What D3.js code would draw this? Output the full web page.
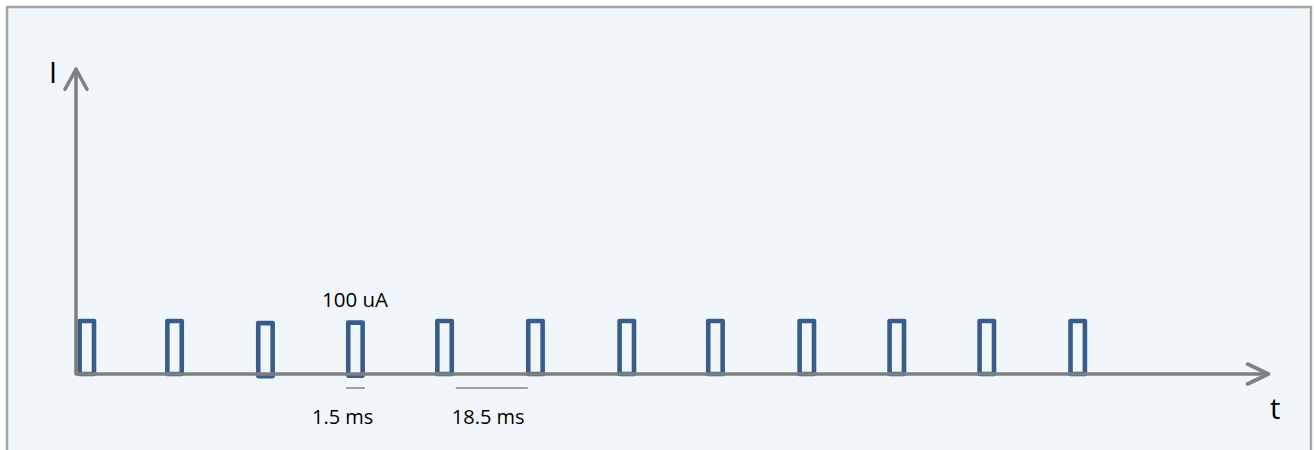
<!DOCTYPE html>
<html>
<head>
<meta charset="utf-8">
<script src="https://cdn.jsdelivr.net/npm/d3@7"></script>
<style>
  html, body { margin: 0; padding: 0; background: #ffffff; }
  svg { display: block; }
</style>
</head>
<body>
<svg id="chart" width="1314" height="450"></svg>
<script>
// ---- data (time in ms, current in uA) ----
const pulseStarts = [0.8, 20.3, 40.5, 60.5, 80.3, 100.5, 120.8, 140.5, 160.8, 180.8, 200.8, 221.0];
const pulseBaseOffsets = [0, 0, -4, -3, 0, 0, 0, 0, 0, 0, 0, 0];
const pulseAmplitude = 100;
const pulseDrawWidth = 3.2;
const amplitudeLabel = "100 uA";
const durationMarks = [
  { label: "1.5 ms", from: 60.0, to: 64.2 },
  { label: "18.5 ms", from: 84.4, to: 100.4 }
];
const axisLabels = { y: "I", x: "t" };
const tMax = 265;
const iMax = 575;

// ---- layout ----
const svg = d3.select("#chart");
const x = d3.scaleLinear().domain([0, tMax]).range([76, 1268.5]);
const y = d3.scaleLinear().domain([0, iMax]).range([374, 69.25]);

// frame
svg.append("rect")
  .attr("x", 7).attr("y", 7).attr("width", 1304).attr("height", 460)
  .attr("fill", "#f1f6fa").attr("stroke", "#a6a6a6").attr("stroke-width", 2.5);

const axisColor = "#7f7f7f";

// pulses
const pulses = pulseStarts.map((t, i) => ({ t, base: pulseBaseOffsets[i] }));
svg.append("g").selectAll("path").data(pulses).join("path")
  .attr("d", d => {
    const x0 = x(d.t), x1 = x(d.t + pulseDrawWidth);
    const yb = y(d.base), yt = y(d.base + pulseAmplitude);
    return `M${x0},${yb} L${x0},${yt} L${x1},${yt} L${x1},${yb} Z`;
  })
  .attr("fill", "none")
  .attr("stroke", "#385d8a")
  .attr("stroke-width", 4.6)
  .attr("stroke-linejoin", "round");

// axes
const g = svg.append("g").attr("stroke", axisColor).attr("stroke-width", 3.6)
  .attr("fill", "none").attr("stroke-linecap", "round").attr("stroke-linejoin", "round");
g.append("path").attr("d", `M${x(0)},${y(iMax)} L${x(0)},${y(0)} L${x(tMax)},${y(0)}`);
// arrowheads
g.append("path").attr("d",
  `M${x(0) - 11},${y(iMax) + 20} L${x(0)},${y(iMax)} L${x(0) + 11},${y(iMax) + 20}`);
g.append("path").attr("d",
  `M${x(tMax) - 21},${y(0) - 10} L${x(tMax)},${y(0)} L${x(tMax) - 21},${y(0) + 10}`);

// duration marks
svg.append("g").selectAll("line").data(durationMarks).join("line")
  .attr("x1", d => x(d.from)).attr("x2", d => x(d.to))
  .attr("y1", 388).attr("y2", 388)
  .attr("stroke", "#a0a0a0").attr("stroke-width", 2);

const font = "'Open Sans', 'Liberation Sans', sans-serif";
svg.append("g").selectAll("text").data(durationMarks).join("text")
  .attr("x", d => x(d.from) + (d.label === "1.5 ms" ? -34 : -4))
  .attr("y", 424)
  .attr("font-family", font).attr("font-size", 20).attr("fill", "#000")
  .text(d => d.label);

// amplitude label
svg.append("text")
  .attr("x", 322).attr("y", 307)
  .attr("font-family", font).attr("font-size", 20.5).attr("fill", "#000")
  .text(amplitudeLabel);

// axis labels
svg.append("text").attr("x", 49).attr("y", 83)
  .attr("font-family", font).attr("font-size", 29).attr("fill", "#000")
  .text(axisLabels.y);
svg.append("text").attr("x", 1270).attr("y", 419)
  .attr("font-family", font).attr("font-size", 29).attr("fill", "#000")
  .text(axisLabels.x);
</script>
</body>
</html>
